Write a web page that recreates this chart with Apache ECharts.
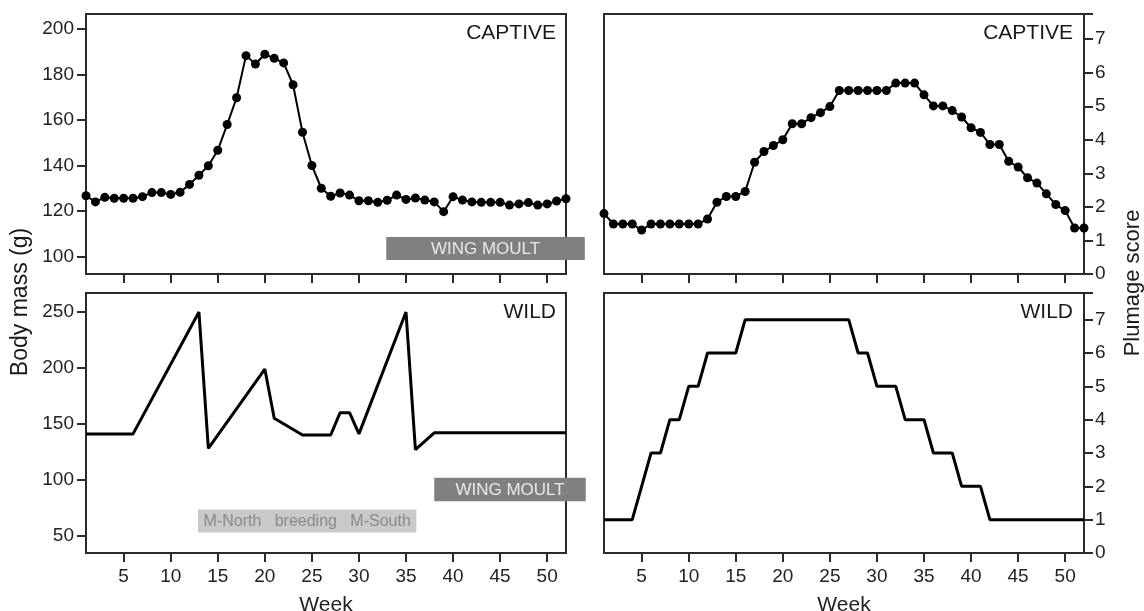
<!DOCTYPE html>
<html>
<head>
<meta charset="utf-8">
<script src="https://cdn.jsdelivr.net/npm/echarts@6/dist/echarts.min.js"></script>
<style>
  html, body { margin: 0; padding: 0; background: #fff; }
  #chart { width: 1144px; height: 611px; }
</style>
</head>
<body>
<div id="chart"></div>
<script>
    // weeks 1..52
    const weeks = [1, 2, 3, 4, 5, 6, 7, 8, 9, 10, 11, 12, 13, 14, 15, 16, 17, 18, 19, 20, 21, 22, 23, 24, 25, 26,
        27, 28, 29, 30, 31, 32, 33, 34, 35, 36, 37, 38, 39, 40, 41, 42, 43, 44, 45, 46, 47, 48, 49, 50, 51, 52];

    // captive body mass (g), one value a week
    const captiveMass = [126.8, 124.1, 126.1, 125.7, 125.7, 125.7, 126.4, 128.2, 128.2, 127.4, 128.3, 131.8, 135.8,
        140.0, 146.8, 158.1, 169.9, 188.4, 184.7, 189.0, 187.2, 185.2, 175.6, 154.7, 140.1, 130.1,
        126.6, 128.0, 127.1, 124.6, 124.6, 123.9, 124.8, 127.1, 125.2, 125.8, 124.9, 124.1, 119.8,
        126.4, 124.9, 124.1, 123.9, 123.9, 123.9, 122.7, 123.2, 123.8, 122.7, 123.2, 124.5, 125.5];

    // captive plumage score, one value a week
    const captivePlumage = [1.80, 1.49, 1.49, 1.49, 1.31, 1.49, 1.49, 1.49, 1.49, 1.49, 1.49, 1.64, 2.14,
        2.31, 2.31, 2.46, 3.33, 3.65, 3.83, 4.00, 4.48, 4.48, 4.66, 4.81, 4.99, 5.47,
        5.47, 5.47, 5.47, 5.47, 5.47, 5.69, 5.69, 5.69, 5.34, 5.01, 5.01, 4.87, 4.68,
        4.36, 4.22, 3.86, 3.86, 3.36, 3.19, 2.87, 2.71, 2.39, 2.07, 1.89, 1.37, 1.37];

    // wild body mass, turning points of the schematic line
    const wildMassWeeks = [1, 6, 13, 14, 20, 21, 24, 27, 28, 29, 30, 35, 36, 38, 52];
    const wildMass = [141, 141, 250, 128, 199, 155, 140, 140, 160, 160, 141, 250, 127, 142, 142];

    // wild plumage score, one value a week
    const wildPlumage = [1, 1, 1, 1, 2, 3, 3, 4, 4, 5, 5, 6, 6, 6, 6, 7, 7, 7, 7, 7, 7, 7, 7, 7, 7, 7,
        7, 6, 6, 5, 5, 5, 4, 4, 4, 3, 3, 3, 2, 2, 2, 1, 1, 1, 1, 1, 1, 1, 1, 1, 1, 1];

    // annotation bands: [week from, week to, low value, high value]
    const captiveMoultBand = [32.9, 54.0, 98.5, 108.7];
    const wildMoultBand = [38.0, 54.1, 80.7, 101.8];
    const breedingBand = [12.9, 36.1, 52.8, 73.3];
    const moultText = 'WING MOULT';
    const breedingText = 'M-North   breeding   M-South';

    const weekTicks = [5, 10, 15, 20, 25, 30, 35, 40, 45, 50];
    const captiveMassTicks = [100, 120, 140, 160, 180, 200];
    const wildMassTicks = [50, 100, 150, 200, 250];

    const FONT = 'Liberation Sans, Arial, Helvetica, sans-serif';
    const AXIS = '#2b2b2b';

    let chart = echarts.init(document.getElementById('chart'));

    const gridBox = (left, top) => ({
        left: left, top: top, width: 480, height: 260, outerBoundsMode: 'none', containLabel: false,
        show: true, borderColor: AXIS, borderWidth: 2, backgroundColor: 'transparent'
    });

    const weekAxis = (gridIndex, labels) => ({
        type: 'value', gridIndex: gridIndex, min: 1, max: 52,
        name: labels ? 'Week' : '', nameLocation: 'middle', nameGap: 42,
        nameTextStyle: { fontFamily: FONT, fontSize: 21, color: '#222' },
        splitLine: { show: false },
        axisLine: { show: true, lineStyle: { color: AXIS, width: 2 } },
        axisTick: { show: true, length: 9, customValues: weekTicks, lineStyle: { color: AXIS, width: 2 } },
        axisLabel: { show: labels, customValues: weekTicks, margin: 14, fontFamily: FONT, fontSize: 19, color: '#222' }
    });

    const massAxis = (gridIndex, min, max, ticks) => ({
        type: 'value', gridIndex: gridIndex, min: min, max: max, position: 'left',
        splitLine: { show: false },
        axisLine: { show: true, lineStyle: { color: AXIS, width: 2 } },
        axisTick: { show: true, length: 9, customValues: ticks, lineStyle: { color: AXIS, width: 2 } },
        axisLabel: { customValues: ticks, margin: 12, fontFamily: FONT, fontSize: 19, color: '#222' }
    });

    const plumageAxis = (gridIndex, max) => ({
        type: 'value', gridIndex: gridIndex, min: 0, max: max, interval: 1, position: 'right',
        splitLine: { show: false },
        axisLine: { show: true, lineStyle: { color: AXIS, width: 2 } },
        axisTick: { show: true, length: 9, lineStyle: { color: AXIS, width: 2 } },
        axisLabel: {
            margin: 11, fontFamily: FONT, fontSize: 19, color: '#222',
            formatter: (v) => (v <= 7 ? String(v) : '')
        }
    });

    // grey band with centred text, placed through the axes
    const band = (axisIndex, range, text, fill, textColor, size) => ({
        type: 'custom', xAxisIndex: axisIndex, yAxisIndex: axisIndex, clip: false, silent: true, z: 1,
        data: [range],
        renderItem: function (params, api) {
            const a = api.coord([api.value(0), api.value(3)]);
            const b = api.coord([api.value(1), api.value(2)]);
            return {
                type: 'group',
                children: [{
                    type: 'rect',
                    shape: { x: a[0], y: a[1], width: b[0] - a[0], height: b[1] - a[1] },
                    style: { fill: fill }
                }, {
                    type: 'text',
                    style: {
                        text: text, x: (a[0] + b[0]) / 2, y: (a[1] + b[1]) / 2 + 1,
                        align: 'center', verticalAlign: 'middle',
                        fill: textColor, font: size + 'px ' + FONT
                    }
                }]
            };
        }
    });

    const panelLabel = (x, y, text) => ({
        type: 'text', x: x, y: y,
        style: { text: text, align: 'right', verticalAlign: 'middle', fill: '#1a1a1a', font: '21px ' + FONT }
    });

    const option = {
        animation: false,
        backgroundColor: '#fff',
        grid: [gridBox(86, 14), gridBox(604, 14), gridBox(86, 293), gridBox(604, 293)],
        xAxis: [weekAxis(0, false), weekAxis(1, false), weekAxis(2, true), weekAxis(3, true)],
        yAxis: [
            massAxis(0, 92.4, 206.7, captiveMassTicks),
            plumageAxis(1, 7.75),
            massAxis(2, 34.5, 267, wildMassTicks),
            plumageAxis(3, 7.8)
        ],
        graphic: [
            panelLabel(556, 33, 'CAPTIVE'),
            panelLabel(1073, 33, 'CAPTIVE'),
            panelLabel(556, 312, 'WILD'),
            panelLabel(1073, 312, 'WILD'),
            {
                type: 'text', x: 21, y: 302, rotation: Math.PI / 2,
                style: { text: 'Body mass (g)', align: 'center', verticalAlign: 'middle', fill: '#1a1a1a', font: '23px ' + FONT }
            },
            {
                type: 'text', x: 1133, y: 283, rotation: Math.PI / 2,
                style: { text: 'Plumage score', align: 'center', verticalAlign: 'middle', fill: '#1a1a1a', font: '22px ' + FONT }
            }
        ],
        series: [
            {
                name: 'captive mass', type: 'line', xAxisIndex: 0, yAxisIndex: 0, z: 3,
                data: weeks.map((w, i) => [w, captiveMass[i]]),
                symbol: 'circle', symbolSize: 9, clip: false,
                lineStyle: { color: '#000', width: 2 }, itemStyle: { color: '#000' }
            },
            {
                name: 'captive plumage', type: 'line', xAxisIndex: 1, yAxisIndex: 1, z: 3,
                data: weeks.map((w, i) => [w, captivePlumage[i]]),
                symbol: 'circle', symbolSize: 9, clip: false,
                lineStyle: { color: '#000', width: 2 }, itemStyle: { color: '#000' }
            },
            {
                name: 'wild mass', type: 'line', xAxisIndex: 2, yAxisIndex: 2, z: 3,
                data: wildMassWeeks.map((w, i) => [w, wildMass[i]]),
                showSymbol: false, lineStyle: { color: '#000', width: 3 }
            },
            {
                name: 'wild plumage', type: 'line', xAxisIndex: 3, yAxisIndex: 3, z: 3,
                data: weeks.map((w, i) => [w, wildPlumage[i]]),
                showSymbol: false, lineStyle: { color: '#000', width: 3 }
            },
            band(0, captiveMoultBand, moultText, '#808080', '#e8e8e8', 17),
            band(2, wildMoultBand, moultText, '#808080', '#e8e8e8', 17),
            band(2, breedingBand, breedingText, '#c9c9c9', '#8a8a8a', 16)
        ]
    };
    chart.setOption(option);
</script>
</body>
</html>
